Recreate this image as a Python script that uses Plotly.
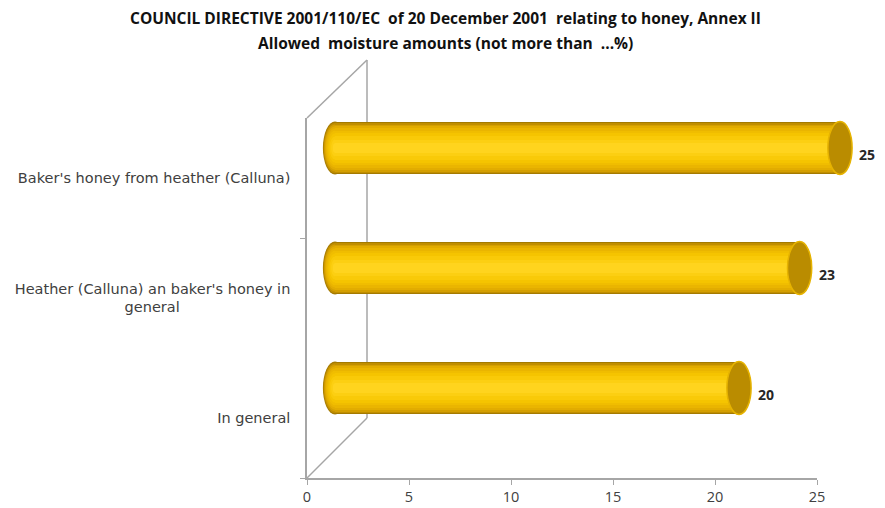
import plotly.graph_objects as go

NB = "\u00a0"
categories = ["In general", "Heather (Calluna) an baker's honey in<br>general" + NB * 24, "Baker's honey from heather (Calluna)"]
values = [20, 23, 25]
x_ticks = [0, 5, 10, 15, 20, 25]
title_line1 = "COUNCIL DIRECTIVE 2001/110/EC  of 20 December 2001  relating to honey, Annex II"
title_line2 = "Allowed  moisture amounts (not more than  ...%)"

W, H = 885, 508
ML, MR, MT, MB = 307, 20, 60, 30
PW, PH = W - ML - MR, H - MT - MB

def px_x(p):
    return (p - ML) / PW

def px_y(p):
    return 1 - (p - MT) / PH

positions = list(range(len(categories)))
bar_w = 0.44
layers = [(1.00, "#A47A00"), (0.95, "#C08E00"), (0.89, "#D49F00"), (0.82, "#E2AC00"),
          (0.74, "#EAB500"), (0.65, "#F0BD00"), (0.55, "#F5C400"), (0.44, "#F9CA08"),
          (0.32, "#FCCF12"), (0.18, "#FFD41E")]

scale = (840 - 335) / 25.0
x2_lo, x2_hi = -1.3, 26.0
x2_dom = [(335 + x2_lo * scale - ML) / PW, (335 + x2_hi * scale - ML) / PW]

fig = go.Figure()
fig.add_trace(go.Scatter(x=[None], y=[None], xaxis="x", yaxis="y", showlegend=False, hoverinfo="skip"))
for frac, col in layers:
    fig.add_trace(go.Bar(
        x=values, y=positions, orientation="h", width=bar_w * frac,
        marker=dict(color=col, line=dict(width=0)),
        xaxis="x2", yaxis="y2", hoverinfo="skip", showlegend=False,
    ))

grey = "#A6A6A6"
shapes = []
for (x0, y0, x1, y1) in [(367, 60, 367, 418), (307, 118, 367, 60), (307, 478, 367, 418)]:
    shapes.append(dict(type="line", xref="paper", yref="paper",
                       x0=px_x(x0), y0=px_y(y0), x1=px_x(x1), y1=px_y(y1),
                       line=dict(color=grey, width=1.5), layer="below"))

rx = 0.6
for p, v in zip(positions, values):
    for frac, col in layers:
        h = bar_w * frac / 2
        shapes.append(dict(type="circle", xref="x2", yref="y2",
                           x0=-rx * frac, x1=rx * frac, y0=p - h, y1=p + h,
                           fillcolor=col, line=dict(width=0), layer="below"))
    h = bar_w / 2
    shapes.append(dict(type="circle", xref="x2", yref="y2",
                       x0=v - rx, x1=v + rx, y0=p - h, y1=p + h,
                       fillcolor="#BA8C00", line=dict(color="#E6B300", width=1.5), layer="above"))

annotations = []
for p, v in zip(positions, values):
    annotations.append(dict(x=v, y=p, xref="x2", yref="y2", text="<b>%d</b>" % v,
                            showarrow=False, xanchor="left", xshift=17, yshift=-6,
                            font=dict(family="Open Sans", size=14, color="#262626")))
annotations.append(dict(x=px_x(445), y=px_y(18), xref="paper", yref="paper", text="<b>" + title_line1 + "</b>",
                        showarrow=False, xanchor="center", yanchor="middle",
                        font=dict(family="Open Sans", size=15.5, color="#111111")))
annotations.append(dict(x=px_x(445), y=px_y(43), xref="paper", yref="paper", text="<b>" + title_line2 + "</b>",
                        showarrow=False, xanchor="center", yanchor="middle",
                        font=dict(family="Open Sans", size=15.5, color="#111111")))

fig.update_layout(
    width=W, height=H,
    margin=dict(l=ML, r=MR, t=MT, b=MB, pad=0, autoexpand=False),
    paper_bgcolor="white", plot_bgcolor="rgba(0,0,0,0)",
    barmode="overlay", bargap=0,
    showlegend=False,
    shapes=shapes, annotations=annotations,
    font=dict(family="Open Sans", size=13, color="#404040"),
    xaxis=dict(domain=[0, 510 / PW], range=[0, 25], anchor="y", automargin=False,
               tickvals=x_ticks, ticks="outside", ticklen=5, tickcolor=grey,
               showline=True, linecolor=grey, linewidth=1.5, showgrid=False, zeroline=False,
               tickfont=dict(size=14.5, color="#404040")),
    yaxis=dict(domain=[0, 360 / PH], range=[-0.5, 2.5], anchor="x", automargin=False,
               tickvals=positions, ticktext=categories, ticks="",
               minor=dict(tickvals=[-0.5, 1.5], ticks="outside", ticklen=5, tickcolor=grey),
               showline=True, linecolor=grey, linewidth=1.5, showgrid=False, zeroline=False,
               ticklabelstandoff=12, tickfont=dict(family="DejaVu Sans", size=14.5, color="#404040")),
    xaxis2=dict(domain=x2_dom, range=[x2_lo, x2_hi], anchor="y2", visible=False, automargin=False),
    yaxis2=dict(domain=[30 / PH, 390 / PH], range=[-0.5, 2.5], anchor="x2", visible=False, automargin=False),
)

fig.write_html("out.html")
